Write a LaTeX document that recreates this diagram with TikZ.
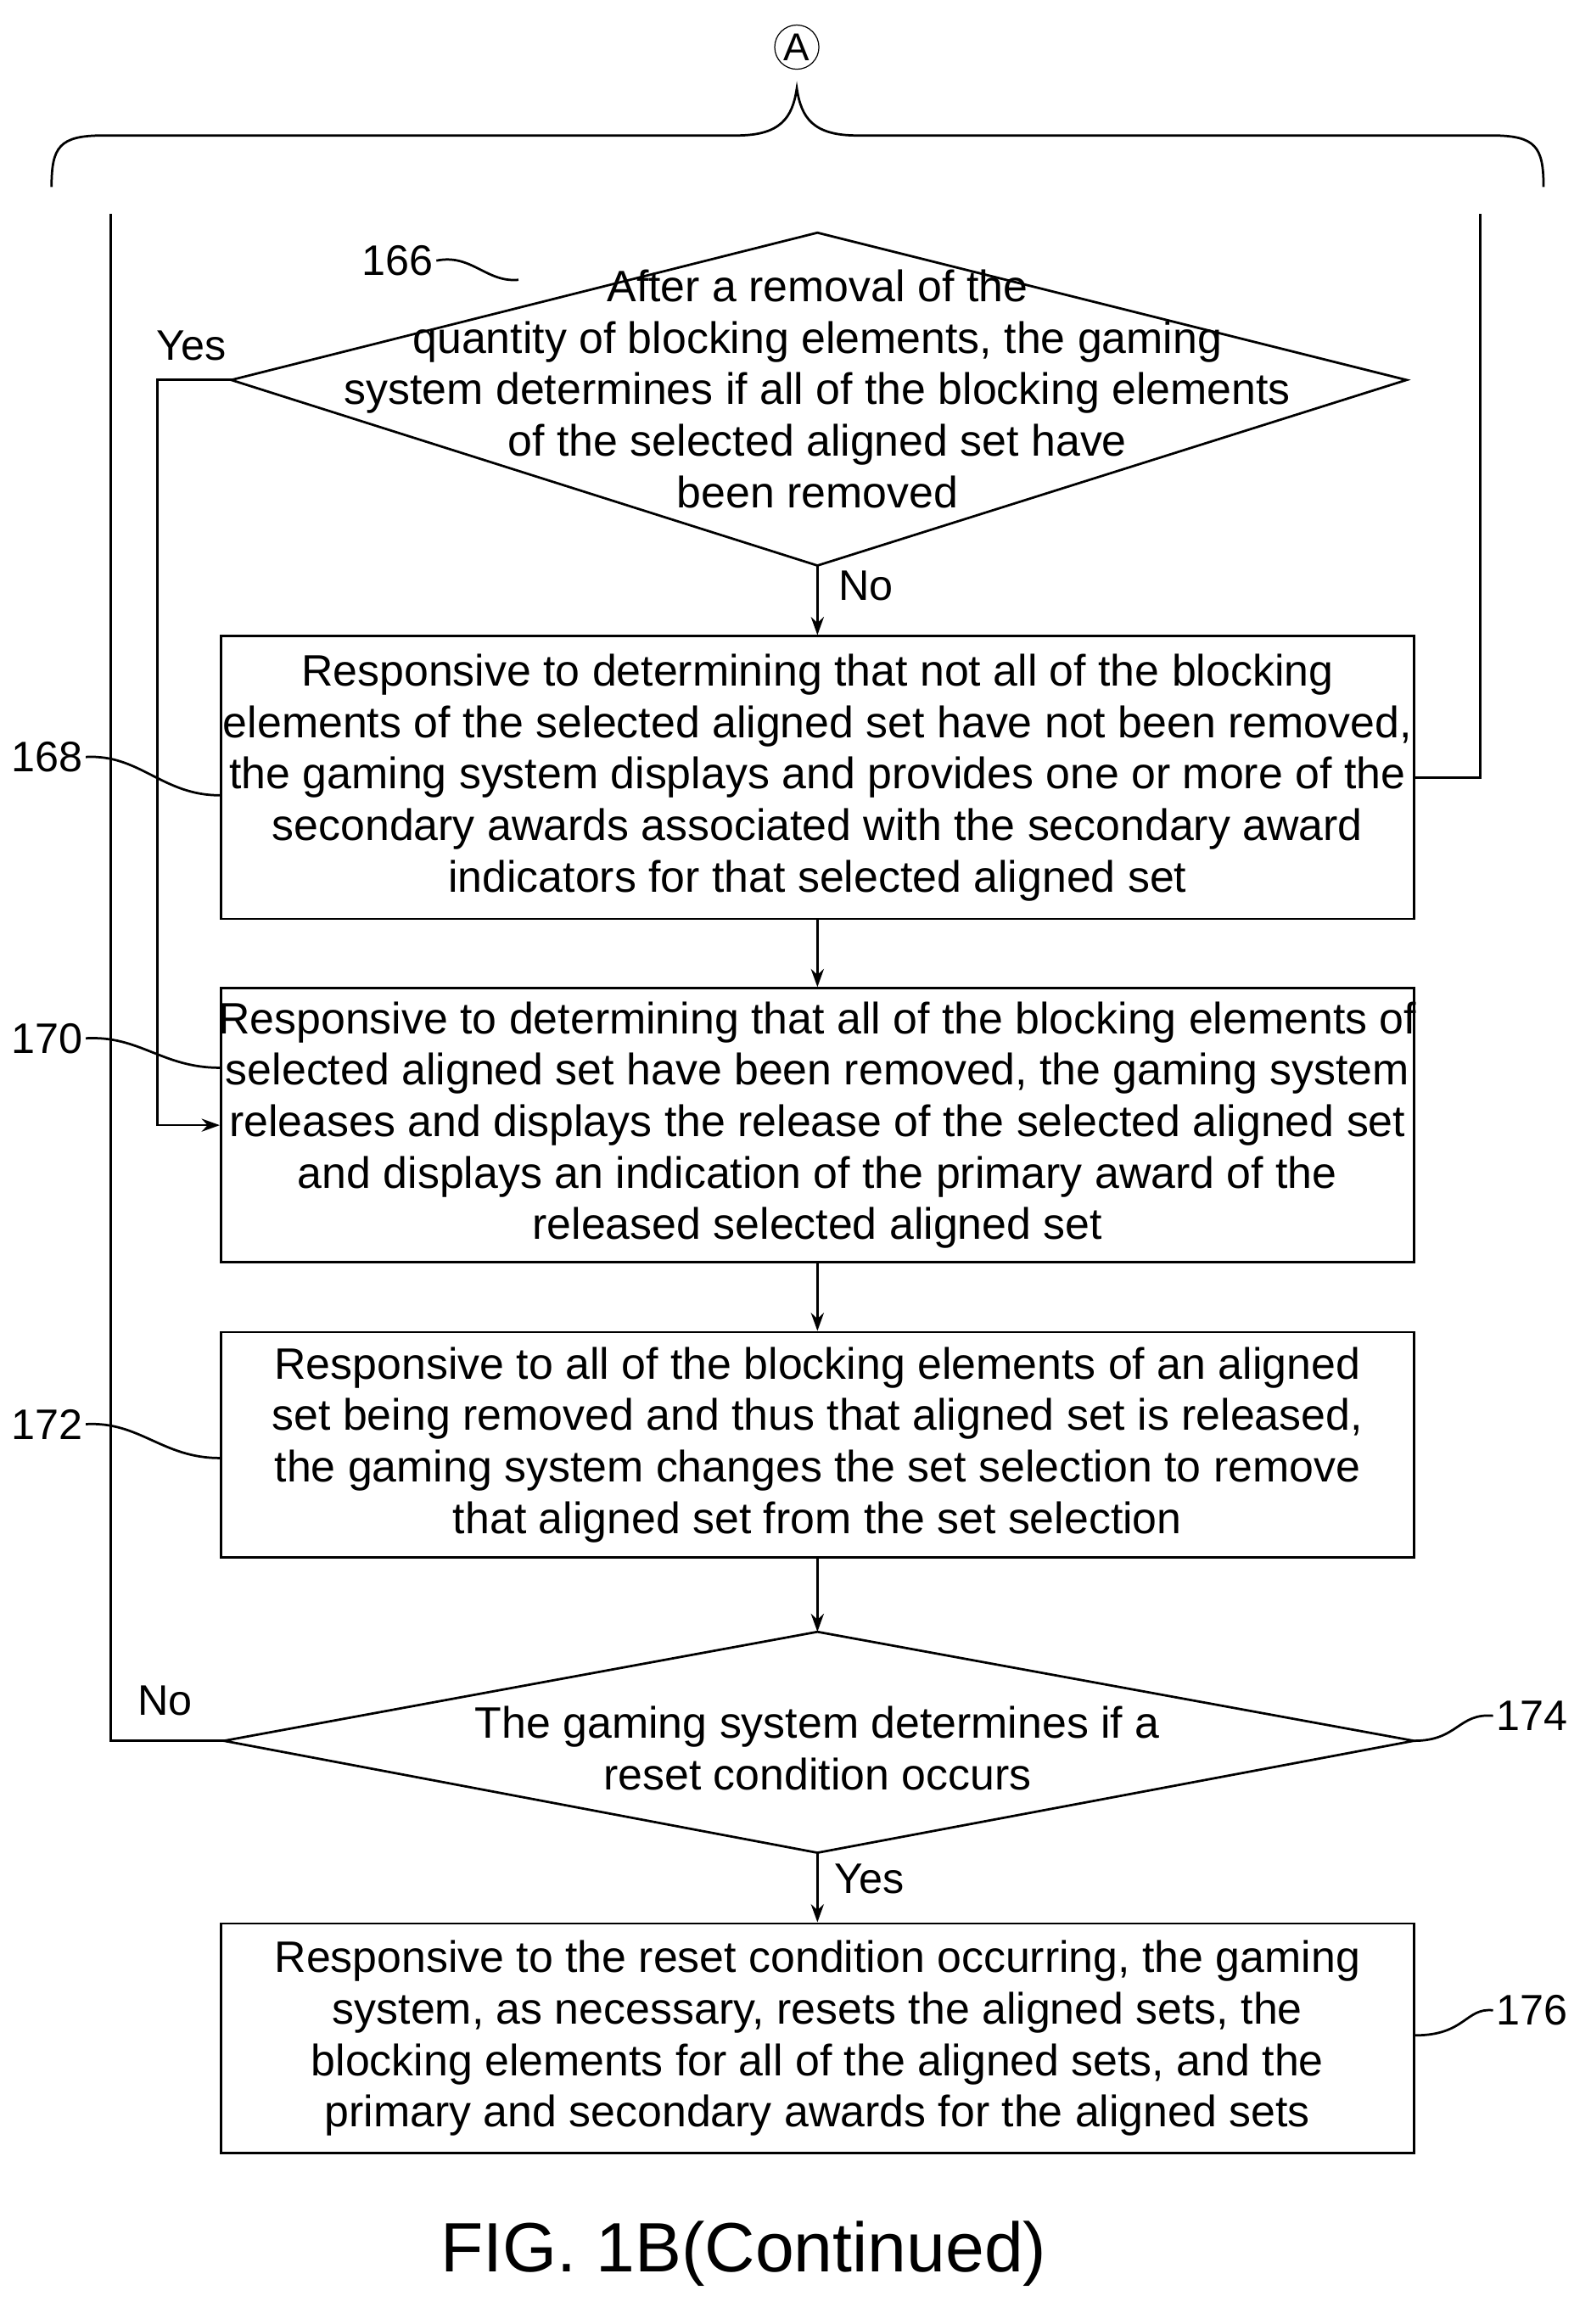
\documentclass[tikz,border=0pt]{standalone}
\usepackage{fontspec}
\usetikzlibrary{arrows.meta}
\setmainfont{Liberation Sans}
\begin{document}
\begin{tikzpicture}[x=0.02cm,y=-0.02cm,
  txt/.style={align=center,font=\fontsize{17}{19.9}\selectfont,inner sep=0},
  box/.style={draw,line width=0.9pt},
  ln/.style={line width=0.9pt},
  arr/.style={ln,-{Stealth[length=7pt,width=5pt]}},
  lab/.style={font=\fontsize{16.5}{18}\selectfont,inner sep=1pt}]
\useasboundingbox (0,0) rectangle (1080,1578);
% connector A and brace
\node[draw,circle,minimum size=30*0.02cm,inner sep=0,font=\fontsize{15}{15}\selectfont] (A) at (541,32) {A};
\draw[ln] (35,127) .. controls (35,100) and (40,92) .. (70,92) -- (500,92) .. controls (530,92) and (538,80) .. (541,60)
  .. controls (544,80) and (552,92) .. (582,92) -- (1013,92) .. controls (1043,92) and (1048,100) .. (1048,127);
% nodes
\coordinate (d1t) at (555,158); \coordinate (d1l) at (157,258); \coordinate (d1r) at (955,258); \coordinate (d1b) at (555,384);
\draw[ln] (d1t) -- (d1r) -- (d1b) -- (d1l) -- cycle;
\node[txt] (d1) at (555,264) {After a removal of the\\quantity of blocking elements, the gaming\\system determines if all of the blocking elements\\of the selected aligned set have\\been removed};
\node[box,minimum width=810*0.02cm,minimum height=192*0.02cm] (b168) at (555,528) {};
\node[txt] at (b168) {Responsive to determining that not all of the blocking\\elements of the selected aligned set have not been removed,\\the gaming system displays and provides one or more of the\\secondary awards associated with the secondary award\\indicators for that selected aligned set};
\node[box,minimum width=810*0.02cm,minimum height=186*0.02cm] (b170) at (555,764) {};
\node[txt] at (b170) {Responsive to determining that all of the blocking elements of\\selected aligned set have been removed, the gaming system\\releases and displays the release of the selected aligned set\\and displays an indication of the primary award of the\\released selected aligned set};
\node[box,minimum width=810*0.02cm,minimum height=153*0.02cm] (b172) at (555,981) {};
\node[txt] at (b172) {Responsive to all of the blocking elements of an aligned\\set being removed and thus that aligned set is released,\\the gaming system changes the set selection to remove\\that aligned set from the set selection};
\coordinate (d2t) at (555,1108); \coordinate (d2l) at (152,1182); \coordinate (d2r) at (960,1182); \coordinate (d2b) at (555,1258);
\draw[ln] (d2t) -- (d2r) -- (d2b) -- (d2l) -- cycle;
\node[txt] (d2) at (555,1187) {The gaming system determines if a\\reset condition occurs};
\node[box,minimum width=810*0.02cm,minimum height=156*0.02cm] (b176) at (555,1384) {};
\node[txt] at (b176) {Responsive to the reset condition occurring, the gaming\\system, as necessary, resets the aligned sets, the\\blocking elements for all of the aligned sets, and the\\primary and secondary awards for the aligned sets};
% arrows
\draw[arr] (d1b) -- (b168.north);
\draw[arr] (b168.south) -- (b170.north);
\draw[arr] (b170.south) -- (b172.north);
\draw[arr] (b172.south) -- (d2t);
\draw[arr] (d2b) -- (b176.north);
\coordinate (yk) at (107,258);
\draw[arr] (d1l) -- (yk) |- (b170.west);
\coordinate (lt) at (75,145);
\draw[ln] (d2l) -- (75,1182) -- (lt);
\coordinate (rt) at (1005,145);
\draw[ln] (b168.east) -| (rt);
% labels
\node[lab] at (130,235) {Yes};
\node[lab] at (588,398) {No};
\node[lab] at (112,1155) {No};
\node[lab] at (590,1276) {Yes};
\node[lab] (n166) at (270,177) {166};
\draw[ln] (n166.east) .. controls (320,172) and (330,192) .. (352,190);
\node[lab] (n168) at (32,514) {168};
\draw[ln] (n168.east) .. controls (95,512) and (110,540) .. (b168.west|-0,540);
\node[lab] (n170) at (32,705) {170};
\draw[ln] (n170.east) .. controls (95,703) and (110,725) .. (b170.west|-0,725);
\node[lab] (n172) at (32,967) {172};
\draw[ln] (n172.east) .. controls (95,965) and (110,990) .. (b172.west|-0,990);
\node[lab] (n174) at (1040,1165) {174};
\draw[ln] (d2r) .. controls (990,1182) and (990,1163) .. (n174.west);
\node[lab] (n176) at (1040,1365) {176};
\draw[ln] (b176.east|-0,1382) .. controls (995,1382) and (995,1363) .. (n176.west);
\node[font=\fontsize{27}{30}\selectfont] (cap) at (505,1530) {FIG. 1B(Continued)};
\end{tikzpicture}
\end{document}
